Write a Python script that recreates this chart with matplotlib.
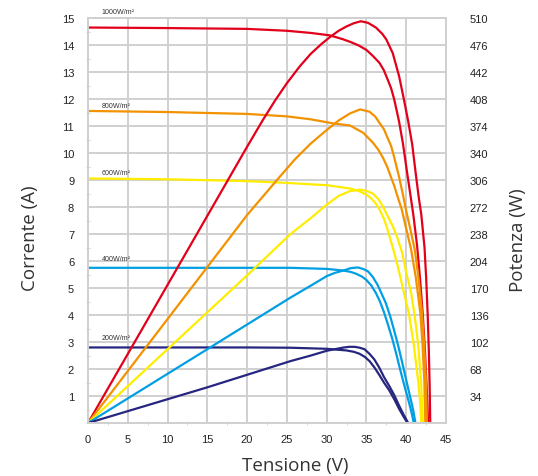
import matplotlib
matplotlib.use("Agg")
import matplotlib.pyplot as plt
from matplotlib.ticker import MultipleLocator

# irradiance levels and colours
levels = ["1000W/m²", "800W/m²", "600W/m²", "400W/m²", "200W/m²"]
colors = ["#e2001a", "#f39200", "#ffed00", "#009fe3", "#262680"]
label_y = [15.1, 11.65, 9.15, 5.95, 3.05]

# I-V curves (V, A)
iv_v_1000 = [0, 10, 20, 25, 28, 30.4, 32, 32.95, 34, 35, 35.8, 36.64, 37.2, 37.66, 38.1, 38.48,
             39.1, 39.6, 40.05, 40.5, 40.9, 41.37, 41.75, 42.07, 42.35, 42.53, 42.65, 42.75]
iv_i_1000 = [14.65, 14.63, 14.6, 14.53, 14.45, 14.36, 14.22, 14.12, 13.99, 13.82, 13.6, 13.34, 13.06,
             12.73, 12.4, 12.0, 11.17, 10.33, 9.4, 8.5, 7.7, 6.56, 5.3, 4.06, 2.7, 1.56, 0.8, 0]
iv_v_800 = [0, 10, 20, 25, 28, 30.8, 32.95, 34.6, 35.8, 36.5, 37.05, 37.6, 38.07, 38.5, 38.9, 39.43,
            40.0, 40.6, 41.2, 41.78, 42.05, 42.28, 42.4]
iv_i_800 = [11.56, 11.52, 11.45, 11.36, 11.25, 11.1, 11.02, 10.75, 10.39, 10.12, 9.84, 9.5, 9.12, 8.78,
            8.4, 7.92, 7.2, 6.45, 5.4, 4.06, 2.9, 1.56, 0]
iv_v_600 = [0, 10, 20, 24.7, 30, 32.9, 34.0, 35.0, 35.6, 36.2, 36.7, 37.2, 37.6, 38.06, 38.5, 38.9,
            39.5, 39.9, 40.33, 40.9, 41.5, 41.75, 41.9]
iv_i_600 = [9.06, 9.03, 8.96, 8.9, 8.81, 8.69, 8.6, 8.46, 8.32, 8.12, 7.88, 7.56, 7.22, 6.75, 6.3, 5.85,
            5.1, 4.6, 4.06, 3.0, 1.56, 0.8, 0]
iv_v_400 = [0, 10, 20, 25.45, 30, 32.07, 33.0, 33.7, 34.4, 34.96, 35.6, 36.2, 36.7, 37.2, 37.7, 38.26,
            38.8, 39.3, 39.8, 40.33, 40.7, 40.95]
iv_i_400 = [5.75, 5.75, 5.75, 5.75, 5.71, 5.65, 5.6, 5.53, 5.43, 5.31, 5.1, 4.81, 4.5, 4.11, 3.65, 3.11,
            2.5, 1.91, 1.35, 0.78, 0.35, 0]
iv_v_200 = [0, 20, 25.45, 30, 32.48, 33.4, 34.1, 34.8, 35.4, 36.0, 36.6, 37.2, 37.85, 38.5, 39.1, 39.7, 40.17]
iv_i_200 = [2.8, 2.8, 2.79, 2.75, 2.69, 2.64, 2.57, 2.45, 2.29, 2.06, 1.79, 1.5, 1.22, 0.88, 0.53, 0.22, 0]

# P-V curves (V, W)
pv_v_1000 = [0, 10, 20, 22, 23.5, 25, 26.6, 28, 29.3, 30.4, 31.5, 32.5, 33.4, 34.3, 35.2, 36.2, 37.0,
             37.5, 38.3, 39.1, 39.7, 40.25, 40.75, 41.15, 41.55, 41.9, 42.3, 42.5, 42.7, 42.85, 42.95, 43.02]
pv_p_1000 = [0, 174, 348, 382, 406, 428, 449, 465, 477, 486, 494, 499.5, 503.5, 506, 504, 498, 490,
             483, 466, 437, 408, 380, 351, 318, 286, 262, 221, 184, 136, 88, 44, 0]
pv_v_800 = [0, 10, 20, 24, 26, 28, 30, 31.5, 32.95, 34.2, 35.4, 36.1, 36.64, 37.2, 37.66, 38.1, 38.48,
            39.1, 39.6, 40.0, 40.5, 41.08, 41.55, 41.99, 42.25, 42.48, 42.6]
pv_p_800 = [0, 131, 262, 309, 332, 352, 369, 381, 390, 395, 392, 386, 378, 370, 359, 349, 335,
            310, 287, 267, 245, 218, 182, 138, 99, 53, 0]
pv_v_600 = [0, 10, 20, 25.45, 28, 30, 31.5, 32.9, 34.3, 35.1, 35.8, 36.5, 37.0, 37.6, 38.3, 38.9,
            39.5, 40.1, 40.6, 41.08, 41.5, 41.86, 42.1]
pv_p_600 = [0, 93, 186, 238, 258, 275, 286, 292, 294, 292, 289, 282, 274, 262, 248, 233,
            214, 185, 165, 134, 99, 53, 0]
pv_v_400 = [0, 15, 25.45, 28, 30, 31, 32.07, 33.0, 33.9, 34.6, 35.2, 35.8, 36.4, 36.9, 37.44, 38.0,
            38.5, 39.0, 39.5, 40.0, 40.54, 40.9, 41.16]
pv_p_400 = [0, 93, 158, 173, 185, 189, 192, 195, 196, 194, 191, 184, 174, 163, 151, 134,
            116, 97, 76, 54, 31, 15, 0]
pv_v_200 = [0, 15, 25.45, 28, 30, 31, 32.07, 32.8, 33.5, 34.1, 34.75, 35.4, 36.0, 36.6, 37.2, 37.85,
            38.5, 39.1, 39.7, 40.25]
pv_p_200 = [0, 45, 78, 85, 91, 93, 95, 96, 96, 95, 93, 87, 80, 70, 58, 47, 35, 22, 10, 0]

iv = [(iv_v_1000, iv_i_1000), (iv_v_800, iv_i_800), (iv_v_600, iv_i_600),
      (iv_v_400, iv_i_400), (iv_v_200, iv_i_200)]
pv = [(pv_v_1000, pv_p_1000), (pv_v_800, pv_p_800), (pv_v_600, pv_p_600),
      (pv_v_400, pv_p_400), (pv_v_200, pv_p_200)]

GRID = "#d0d0d0"
TXT = "#333333"

fig = plt.figure(figsize=(5.38, 4.77), dpi=100)
ax = fig.add_axes([0.1636, 0.111, 0.6654, 0.849])
ax2 = ax.twinx()

ax.set_xlim(0, 45)
ax.set_ylim(0, 15)
ax2.set_ylim(0, 510)

ax.xaxis.set_major_locator(MultipleLocator(5))
ax.xaxis.set_minor_locator(MultipleLocator(2.5))
ax.set_yticks(range(1, 16))
ax.yaxis.set_minor_locator(MultipleLocator(0.5))
ax2.set_yticks(range(34, 511, 34))
ax.grid(True, which="major", color=GRID, lw=1.4)
ax.set_axisbelow(True)
for a in (ax, ax2):
    for s in a.spines.values():
        s.set_color(GRID)
        s.set_linewidth(1.4)
ax.tick_params(which="major", length=0, labelsize=8, labelcolor="#222222", pad=10)
ax.tick_params(which="minor", length=3, color=GRID, direction="inout")
ax2.tick_params(which="major", length=0, labelsize=8, labelcolor="#222222", pad=17)
ax.tick_params(axis="x", pad=8)
for t in ax.get_xticklabels() + ax.get_yticklabels() + ax2.get_yticklabels():
    t.set_family("Liberation Sans")

for (v, i), (pv_, p), c in zip(iv, pv, colors):
    ax.plot(v, i, color=c, lw=1.6, solid_joinstyle="round")
    ax2.plot(pv_, p, color=c, lw=1.6, solid_joinstyle="round")

for lab, y in zip(levels, label_y):
    ax.text(1.7, y, lab, fontsize=5.1, color="#333333", va="bottom", family="Liberation Sans")

ax.set_xlabel("Tensione (V)", fontsize=13.5, color=TXT, family="Open Sans")
ax.xaxis.set_label_coords(0.578, -0.0815)
ax.set_ylabel("Corrente (A)", fontsize=13.5, color=TXT, family="Open Sans")
ax.yaxis.set_label_coords(-0.138, 0.46)
ax2.set_ylabel("Potenza (W)", fontsize=13.5, color=TXT, family="Open Sans")
ax2.yaxis.set_label_coords(1.176, 0.455)

fig.savefig("out.png", dpi=100, facecolor="white")
